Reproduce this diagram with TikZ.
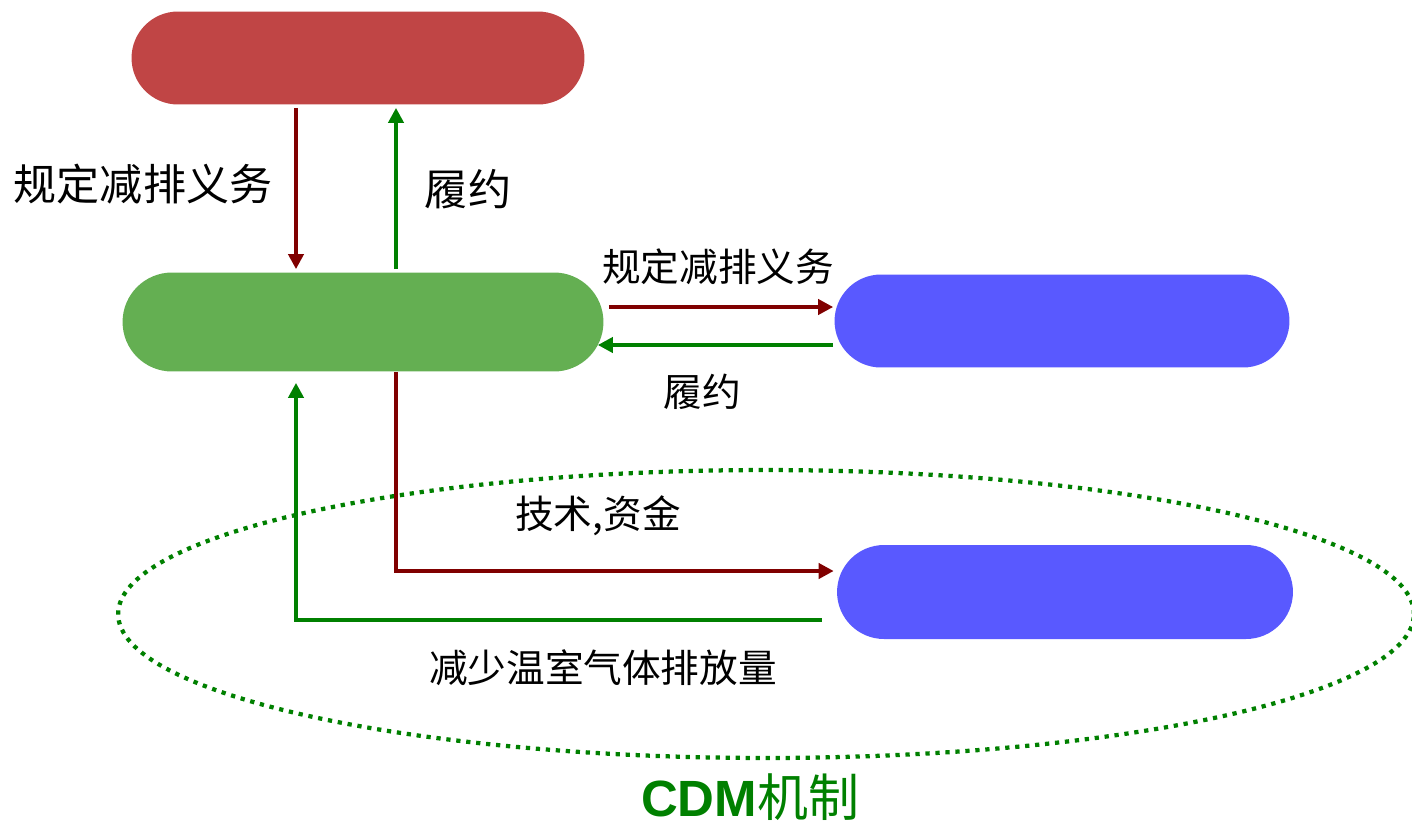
\documentclass[tikz,border=0pt]{standalone}
\usepackage{fontspec}
\setmainfont{Liberation Sans}
\newfontfamily\cjk{Noto Sans CJK SC}
\usetikzlibrary{arrows.meta}
\definecolor{nred}{HTML}{C04545}
\definecolor{ngreen}{HTML}{64AF52}
\definecolor{nblue}{HTML}{5959FF}
\definecolor{ldred}{HTML}{800000}
\definecolor{lgreen}{HTML}{008000}
\tikzset{
  pill/.style={minimum width=#1, inner sep=0pt, draw=none},
  redline/.style={draw=ldred, line width=0.08cm, -{Triangle[length=0.3cm,width=0.3cm]}},
  greenline/.style={draw=lgreen, line width=0.08cm, -{Triangle[length=0.3cm,width=0.3cm]}},
  lbl/.style={font=\cjk\fontsize{22}{26}\selectfont, inner sep=0pt},
}
\begin{document}
\begin{tikzpicture}[x=0.02cm,y=-0.02cm]
\useasboundingbox (0,0) rectangle (1412,825);
% ellipse
\draw[lgreen, line width=0.085cm, dash pattern=on 0.085cm off 0.115cm] (766,614) ellipse [x radius=12.96cm, y radius=2.88cm];
% nodes
\node[pill=9.06cm, minimum height=1.86cm, fill=nred, rounded corners=0.93cm] (red) at (358,58) {};
\node[pill=9.62cm, minimum height=1.98cm, fill=ngreen, rounded corners=0.99cm] (green) at (363,322) {};
\node[pill=9.1cm, minimum height=1.86cm, fill=nblue, rounded corners=0.93cm] (blueA) at (1062,321) {};
\node[pill=9.12cm, minimum height=1.88cm, fill=nblue, rounded corners=0.94cm] (blueB) at (1065,592) {};
% helper coordinates
\coordinate (xa) at (296,0);
\coordinate (xb) at (396,0);
\coordinate (yc) at (0,307);
\coordinate (yd) at (0,345);
\coordinate (ye) at (0,571);
\coordinate (yf) at (0,620);
% connectors
\draw[redline, shorten <=0.06cm, shorten >=0.06cm] (red.south -| xa) -- (green.north -| xa);
\draw[greenline, shorten <=0.06cm, shorten >=0.06cm] (green.north -| xb) -- (red.south -| xb);
\draw[redline, shorten <=0.1cm, shorten >=0.02cm] (green.east |- yc) -- (blueA.west |- yc);
\draw[greenline, shorten <=0.02cm, shorten >=-0.12cm] (blueA.west |- yd) -- (green.east |- yd);
\draw[redline, shorten >=0.06cm] (green.south -| xb) |- (blueB.west |- ye);
\draw[greenline, shorten <=0.3cm, shorten >=0.22cm] (blueB.west |- yf) -| (green.south -| xa);
% labels
\node[lbl, font=\cjk\fontsize{24.5}{28}\selectfont] (l1) at (143,184) {规定减排义务};
\node[lbl, font=\cjk\fontsize{24.5}{28}\selectfont] (l2) at (468,189) {履约};
\node[lbl] (l3) at (718,267) {规定减排义务};
\node[lbl] (l4) at (702,392) {履约};
\node[lbl] (l5) at (598,516) {技术,资金};
\node[lbl] (l6) at (603,668) {减少温室气体排放量};
\node[inner sep=0pt, text=lgreen] (l7) at (750,797) {\fontsize{29}{34}\selectfont{\bfseries CDM}{\cjk\mdseries 机制}};
\end{tikzpicture}
\end{document}
